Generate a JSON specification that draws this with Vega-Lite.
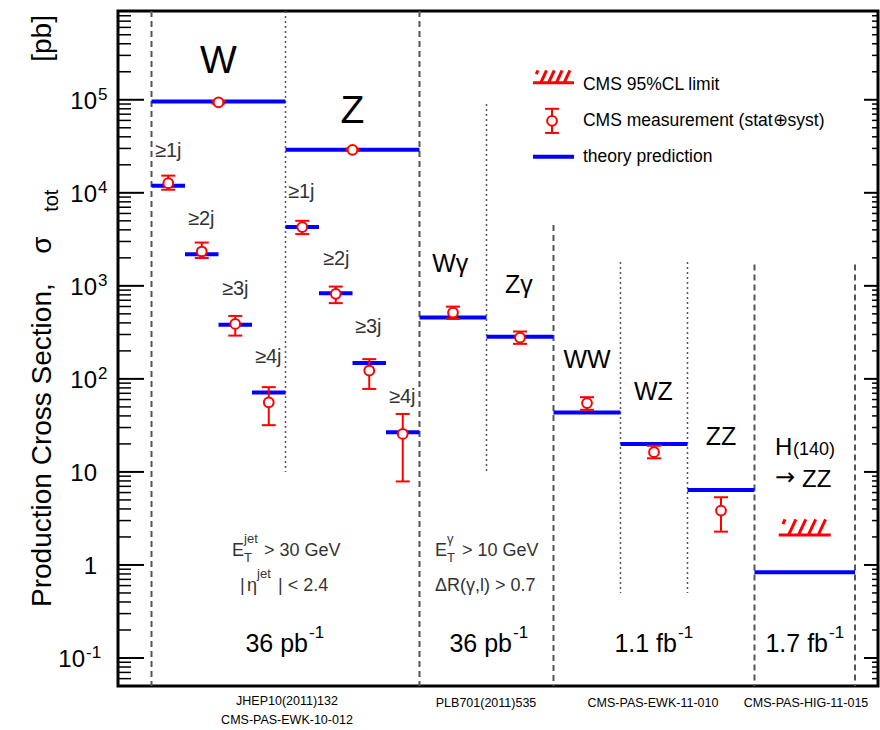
{
  "$schema": "https://vega.github.io/schema/vega-lite/v6.json",
  "autosize": {"type": "none"},
  "padding": {"left": 118, "top": 11, "right": 2, "bottom": 44},
  "width": 760,
  "height": 675,
  "background": "white",
  "config": {
    "view": {"stroke": "black", "strokeWidth": 3},
    "axis": {"disable": true},
    "text": {"font": "Liberation Sans", "color": "black"}
  },
  "datasets": {
    "xsec": [
      {"proc": "W", "x0": 0.5, "x1": 2.5, "xc": 1.5, "theory": 96000, "meas": 94000, "lo": 91000, "hi": 97000},
      {"proc": "Z", "x0": 2.5, "x1": 4.5, "xc": 3.5, "theory": 29000, "meas": 29000, "lo": 28200, "hi": 29800},
      {"proc": "W+>=1j", "x0": 0.5, "x1": 1.0, "xc": 0.75, "theory": 11900, "meas": 12700, "lo": 10800, "hi": 15300},
      {"proc": "W+>=2j", "x0": 1.0, "x1": 1.5, "xc": 1.25, "theory": 2190, "meas": 2340, "lo": 1990, "hi": 2920},
      {"proc": "W+>=3j", "x0": 1.5, "x1": 2.0, "xc": 1.75, "theory": 381, "meas": 390, "lo": 292, "hi": 475},
      {"proc": "W+>=4j", "x0": 2.0, "x1": 2.5, "xc": 2.25, "theory": 71.3, "meas": 56, "lo": 31.8, "hi": 81.5},
      {"proc": "Z+>=1j", "x0": 2.5, "x1": 3.0, "xc": 2.75, "theory": 4280, "meas": 4280, "lo": 3600, "hi": 5000},
      {"proc": "Z+>=2j", "x0": 3.0, "x1": 3.5, "xc": 3.25, "theory": 834, "meas": 820, "lo": 652, "hi": 982},
      {"proc": "Z+>=3j", "x0": 3.5, "x1": 4.0, "xc": 3.75, "theory": 148, "meas": 123, "lo": 78, "hi": 163},
      {"proc": "Z+>=4j", "x0": 4.0, "x1": 4.5, "xc": 4.25, "theory": 26.7, "meas": 25.6, "lo": 7.9, "hi": 42},
      {"proc": "Wgamma", "x0": 4.5, "x1": 5.5, "xc": 5.0, "theory": 456, "meas": 516, "lo": 441, "hi": 598},
      {"proc": "Zgamma", "x0": 5.5, "x1": 6.5, "xc": 6.0, "theory": 283, "meas": 278, "lo": 238, "hi": 323},
      {"proc": "WW", "x0": 6.5, "x1": 7.5, "xc": 7.0, "theory": 43.5, "meas": 54.9, "lo": 46.5, "hi": 63.6},
      {"proc": "WZ", "x0": 7.5, "x1": 8.5, "xc": 8.0, "theory": 19.9, "meas": 16.3, "lo": 14.0, "hi": 19.1},
      {"proc": "ZZ", "x0": 8.5, "x1": 9.5, "xc": 9.0, "theory": 6.41, "meas": 3.84, "lo": 2.28, "hi": 5.34},
      {"proc": "H(140)->ZZ", "x0": 9.5, "x1": 11.0, "xc": 10.25, "theory": 0.835, "meas": null, "lo": null, "hi": null}
    ],
    "limits": [
      {"proc": "H(140)->ZZ", "xc": 10.25, "limit": 2.1}
    ],
    "dividers": [
      {"x": 0.5, "ytop": 900000, "ybot": 0.05, "kind": "dashed"},
      {"x": 2.5, "ytop": 900000, "ybot": 10, "kind": "dotted"},
      {"x": 4.5, "ytop": 900000, "ybot": 0.05, "kind": "dashed"},
      {"x": 5.5, "ytop": 90000, "ybot": 10, "kind": "dotted"},
      {"x": 6.5, "ytop": 4500, "ybot": 0.05, "kind": "dashed"},
      {"x": 7.5, "ytop": 1800, "ybot": 0.5, "kind": "dotted"},
      {"x": 8.5, "ytop": 1800, "ybot": 0.5, "kind": "dotted"},
      {"x": 9.5, "ytop": 1700, "ybot": 0.05, "kind": "dashed"},
      {"x": 11.0, "ytop": 1700, "ybot": 0.05, "kind": "dashed"}
    ],
    "majorTicks": [
      {"v": 0.1}, {"v": 1}, {"v": 10}, {"v": 100}, {"v": 1000}, {"v": 10000}, {"v": 100000}
    ],
    "minorTicks": [
      {"v": 0.05}, {"v": 0.06}, {"v": 0.07}, {"v": 0.08}, {"v": 0.09},
      {"v": 0.2}, {"v": 0.3}, {"v": 0.4}, {"v": 0.5}, {"v": 0.6}, {"v": 0.7}, {"v": 0.8}, {"v": 0.9},
      {"v": 2}, {"v": 3}, {"v": 4}, {"v": 5}, {"v": 6}, {"v": 7}, {"v": 8}, {"v": 9},
      {"v": 20}, {"v": 30}, {"v": 40}, {"v": 50}, {"v": 60}, {"v": 70}, {"v": 80}, {"v": 90},
      {"v": 200}, {"v": 300}, {"v": 400}, {"v": 500}, {"v": 600}, {"v": 700}, {"v": 800}, {"v": 900},
      {"v": 2000}, {"v": 3000}, {"v": 4000}, {"v": 5000}, {"v": 6000}, {"v": 7000}, {"v": 8000}, {"v": 9000},
      {"v": 20000}, {"v": 30000}, {"v": 40000}, {"v": 50000}, {"v": 60000}, {"v": 70000}, {"v": 80000}, {"v": 90000},
      {"v": 200000}, {"v": 300000}, {"v": 400000}, {"v": 500000}, {"v": 600000}, {"v": 700000}, {"v": 800000}, {"v": 900000}
    ],
    "tickLabels": [
      {"v": 100000, "base": "10", "exp": "5"},
      {"v": 10000, "base": "10", "exp": "4"},
      {"v": 1000, "base": "10", "exp": "3"},
      {"v": 100, "base": "10", "exp": "2"},
      {"v": 10, "base": "10", "exp": ""},
      {"v": 1, "base": "1", "exp": ""},
      {"v": 0.1, "base": "10", "exp": "-1"}
    ],
    "notes": [
      {"t": "W", "x": 1.5, "y": 195000, "k": "big"},
      {"t": "Z", "x": 3.5, "y": 56600, "k": "big"},
      {"t": "≥1j", "x": 0.552, "y": 24400, "k": "jet"},
      {"t": "≥2j", "x": 1.045, "y": 4530, "k": "jet"},
      {"t": "≥3j", "x": 1.552, "y": 800, "k": "jet"},
      {"t": "≥4j", "x": 2.045, "y": 148.6, "k": "jet"},
      {"t": "≥1j", "x": 2.537, "y": 8840, "k": "jet"},
      {"t": "≥2j", "x": 3.06, "y": 1682, "k": "jet"},
      {"t": "≥3j", "x": 3.537, "y": 312, "k": "jet"},
      {"t": "≥4j", "x": 4.045, "y": 55.2, "k": "jet"},
      {"t": "Wγ", "x": 4.96, "y": 1415, "k": "proc"},
      {"t": "Zγ", "x": 5.985, "y": 841, "k": "proc"},
      {"t": "WW", "x": 7.0, "y": 131, "k": "proc"},
      {"t": "WZ", "x": 7.99, "y": 59.5, "k": "proc"},
      {"t": "ZZ", "x": 9.0, "y": 19.5, "k": "proc"},
      {"t": "H", "x": 9.806, "y": 15.2, "k": "higgs"},
      {"t": "(140)", "x": 10.075, "y": 15.2, "k": "higgsSmall"},
      {"t": "→", "x": 9.806, "y": 7.25, "k": "higgsArrow"},
      {"t": "ZZ", "x": 10.21, "y": 6.9, "k": "higgs"},
      {"t": "E", "x": 1.701, "y": 1.25, "k": "cut"},
      {"t": "T", "x": 1.881, "y": 1.077, "k": "cutSmall"},
      {"t": "jet", "x": 1.881, "y": 1.724, "k": "cutSmall"},
      {"t": "> 30 GeV", "x": 2.179, "y": 1.25, "k": "cut"},
      {"t": "|", "x": 1.821, "y": 0.5254, "k": "cut"},
      {"t": "η", "x": 1.925, "y": 0.5254, "k": "cut"},
      {"t": "jet", "x": 2.075, "y": 0.7247, "k": "cutSmall"},
      {"t": "| < 2.4", "x": 2.388, "y": 0.5254, "k": "cut"},
      {"t": "E", "x": 4.731, "y": 1.25, "k": "cut"},
      {"t": "T", "x": 4.91, "y": 1.077, "k": "cutSmall"},
      {"t": "γ", "x": 4.91, "y": 1.724, "k": "cutSmall"},
      {"t": "> 10 GeV", "x": 5.134, "y": 1.25, "k": "cut"},
      {"t": "ΔR(γ,l) > 0.7", "x": 4.731, "y": 0.5254, "k": "cut"},
      {"t": "36 pb", "x": 2.836, "y": 0.116, "k": "lumi"},
      {"t": "-1", "x": 2.851, "y": 0.164, "k": "lumiExp"},
      {"t": "36 pb", "x": 5.881, "y": 0.116, "k": "lumi"},
      {"t": "-1", "x": 5.896, "y": 0.164, "k": "lumiExp"},
      {"t": "1.1 fb", "x": 8.343, "y": 0.116, "k": "lumi"},
      {"t": "-1", "x": 8.358, "y": 0.164, "k": "lumiExp"},
      {"t": "1.7 fb", "x": 10.597, "y": 0.116, "k": "lumi"},
      {"t": "-1", "x": 10.612, "y": 0.164, "k": "lumiExp"},
      {"t": "JHEP10(2011)132", "x": 2.522, "y": 0.03125, "k": "ref"},
      {"t": "CMS-PAS-EWK-10-012", "x": 2.522, "y": 0.01952, "k": "ref"},
      {"t": "PLB701(2011)535", "x": 5.493, "y": 0.02973, "k": "ref"},
      {"t": "CMS-PAS-EWK-11-010", "x": 7.985, "y": 0.02973, "k": "ref"},
      {"t": "CMS-PAS-HIG-11-015", "x": 10.269, "y": 0.02973, "k": "ref"},
      {"t": "CMS 95%CL limit", "x": 6.94, "y": 145000, "k": "legend"},
      {"t": "CMS measurement (stat⊕syst)", "x": 6.94, "y": 59400, "k": "legend"},
      {"t": "theory prediction", "x": 6.94, "y": 24400, "k": "legend"},
      {"t": "Production Cross Section,", "x": -1.0, "y": 0.3535, "k": "title"},
      {"t": "σ", "x": -1.0, "y": 2208, "k": "title"},
      {"t": "tot", "x": -0.9, "y": 6250, "k": "titleSub"},
      {"t": "[pb]", "x": -1.0, "y": 256000, "k": "title"}
    ],
    "legendItems": [
      {"item": "limit", "x": 6.5, "x0": 6.194, "x1": 6.806, "y": 152400, "lo": null, "hi": null},
      {"item": "measurement", "x": 6.478, "x0": null, "x1": null, "y": 59400, "lo": 44000, "hi": 80000},
      {"item": "theory", "x": 6.5, "x0": 6.194, "x1": 6.806, "y": 24400, "lo": null, "hi": null}
    ]
  },
  "layer": [
    {
      "data": {"name": "minorTicks"},
      "mark": {"type": "rule", "stroke": "black", "strokeWidth": 1.5},
      "encoding": {
        "x": {"datum": 0, "type": "quantitative", "scale": {"domain": [0, 11.3433], "nice": false, "zero": false}},
        "x2": {"datum": 0.194},
        "y": {"field": "v", "type": "quantitative", "scale": {"type": "log", "domain": [0.05, 900000], "nice": false}}
      }
    },
    {
      "data": {"name": "majorTicks"},
      "mark": {"type": "rule", "stroke": "black", "strokeWidth": 2},
      "encoding": {
        "x": {"datum": 0, "type": "quantitative"},
        "x2": {"datum": 0.388},
        "y": {"field": "v", "type": "quantitative"}
      }
    },
    {
      "data": {"name": "minorTicks"},
      "mark": {"type": "rule", "stroke": "black", "strokeWidth": 1.5},
      "encoding": {
        "x": {"datum": 11.3433, "type": "quantitative"},
        "x2": {"datum": 11.254},
        "y": {"field": "v", "type": "quantitative"}
      }
    },
    {
      "data": {"name": "majorTicks"},
      "mark": {"type": "rule", "stroke": "black", "strokeWidth": 2},
      "encoding": {
        "x": {"datum": 11.3433, "type": "quantitative"},
        "x2": {"datum": 11.134},
        "y": {"field": "v", "type": "quantitative"}
      }
    },
    {
      "data": {"name": "dividers"},
      "transform": [{"filter": "datum.kind === 'dashed'"}],
      "mark": {"type": "rule", "stroke": "#555555", "strokeWidth": 2, "strokeDash": [6, 4]},
      "encoding": {
        "x": {"field": "x", "type": "quantitative"},
        "y": {"field": "ytop", "type": "quantitative"},
        "y2": {"field": "ybot"}
      }
    },
    {
      "data": {"name": "dividers"},
      "transform": [{"filter": "datum.kind === 'dotted'"}],
      "mark": {"type": "rule", "stroke": "#555555", "strokeWidth": 1.5, "strokeDash": [2, 3]},
      "encoding": {
        "x": {"field": "x", "type": "quantitative"},
        "y": {"field": "ytop", "type": "quantitative"},
        "y2": {"field": "ybot"}
      }
    },
    {
      "data": {"name": "xsec"},
      "mark": {"type": "rule", "stroke": "#0000ff", "strokeWidth": 4},
      "encoding": {
        "x": {"field": "x0", "type": "quantitative"},
        "x2": {"field": "x1"},
        "y": {"field": "theory", "type": "quantitative"}
      }
    },
    {
      "data": {"name": "xsec"},
      "transform": [{"filter": "isValid(datum.meas)"}],
      "layer": [
        {
          "mark": {"type": "rule", "stroke": "#ff0000", "strokeWidth": 2},
          "encoding": {
            "x": {"field": "xc", "type": "quantitative"},
            "y": {"field": "lo", "type": "quantitative"},
            "y2": {"field": "hi"}
          }
        },
        {
          "mark": {"type": "tick", "orient": "horizontal", "color": "#ff0000", "size": 14, "thickness": 2, "opacity": 1},
          "encoding": {
            "x": {"field": "xc", "type": "quantitative"},
            "y": {"field": "lo", "type": "quantitative"}
          }
        },
        {
          "mark": {"type": "tick", "orient": "horizontal", "color": "#ff0000", "size": 14, "thickness": 2, "opacity": 1},
          "encoding": {
            "x": {"field": "xc", "type": "quantitative"},
            "y": {"field": "hi", "type": "quantitative"}
          }
        },
        {
          "mark": {"type": "point", "shape": "circle", "filled": true, "fill": "white", "stroke": "#ff0000", "strokeWidth": 2, "size": 95, "opacity": 1},
          "encoding": {
            "x": {"field": "xc", "type": "quantitative"},
            "y": {"field": "meas", "type": "quantitative"}
          }
        }
      ]
    },
    {
      "data": {"name": "limits"},
      "mark": {"type": "point", "shape": "M-1,0L1,0M-0.84,-0.42L-0.76,-0.6M-0.62,0L-0.34,-0.6M-0.24,0L0.04,-0.6M0.14,0L0.42,-0.6M0.52,0L0.8,-0.6", "filled": false, "stroke": "#ff0000", "strokeWidth": 3, "size": 2704, "opacity": 1},
      "encoding": {
        "x": {"field": "xc", "type": "quantitative"},
        "y": {"field": "limit", "type": "quantitative"}
      }
    },
    {
      "data": {"name": "legendItems"},
      "transform": [{"filter": "datum.item === 'limit'"}],
      "mark": {"type": "point", "shape": "M-1,0L1,0M-0.84,-0.42L-0.76,-0.6M-0.62,0L-0.34,-0.6M-0.24,0L0.04,-0.6M0.14,0L0.42,-0.6M0.52,0L0.8,-0.6", "filled": false, "stroke": "#ff0000", "strokeWidth": 3, "size": 1681, "opacity": 1},
      "encoding": {
        "x": {"field": "x", "type": "quantitative"},
        "y": {"field": "y", "type": "quantitative"}
      }
    },
    {
      "data": {"name": "legendItems"},
      "transform": [{"filter": "datum.item === 'theory'"}],
      "mark": {"type": "rule", "stroke": "#0000ff", "strokeWidth": 4},
      "encoding": {
        "x": {"field": "x0", "type": "quantitative"},
        "x2": {"field": "x1"},
        "y": {"field": "y", "type": "quantitative"}
      }
    },
    {
      "data": {"name": "legendItems"},
      "transform": [{"filter": "datum.item === 'measurement'"}],
      "layer": [
        {
          "mark": {"type": "rule", "stroke": "#ff0000", "strokeWidth": 2},
          "encoding": {
            "x": {"field": "x", "type": "quantitative"},
            "y": {"field": "lo", "type": "quantitative"},
            "y2": {"field": "hi"}
          }
        },
        {
          "mark": {"type": "tick", "orient": "horizontal", "color": "#ff0000", "size": 14, "thickness": 2, "opacity": 1},
          "encoding": {
            "x": {"field": "x", "type": "quantitative"},
            "y": {"field": "lo", "type": "quantitative"}
          }
        },
        {
          "mark": {"type": "tick", "orient": "horizontal", "color": "#ff0000", "size": 14, "thickness": 2, "opacity": 1},
          "encoding": {
            "x": {"field": "x", "type": "quantitative"},
            "y": {"field": "hi", "type": "quantitative"}
          }
        },
        {
          "mark": {"type": "point", "shape": "circle", "filled": true, "fill": "white", "stroke": "#ff0000", "strokeWidth": 2, "size": 95, "opacity": 1},
          "encoding": {
            "x": {"field": "x", "type": "quantitative"},
            "y": {"field": "y", "type": "quantitative"}
          }
        }
      ]
    },
    {
      "data": {"name": "tickLabels"},
      "transform": [{"filter": "datum.exp !== '-1'"}],
      "mark": {"type": "text", "align": "right", "baseline": "alphabetic", "fontSize": 24, "dx": -21, "dy": 9},
      "encoding": {
        "x": {"datum": 0, "type": "quantitative"},
        "y": {"field": "v", "type": "quantitative"},
        "text": {"field": "base"}
      }
    },
    {
      "data": {"name": "tickLabels"},
      "transform": [{"filter": "datum.exp !== '-1' && datum.exp !== ''"}],
      "mark": {"type": "text", "align": "left", "baseline": "alphabetic", "fontSize": 17, "dx": -20, "dy": 0},
      "encoding": {
        "x": {"datum": 0, "type": "quantitative"},
        "y": {"field": "v", "type": "quantitative"},
        "text": {"field": "exp"}
      }
    },
    {
      "data": {"name": "tickLabels"},
      "transform": [{"filter": "datum.exp === '-1'"}],
      "layer": [
        {
          "mark": {"type": "text", "align": "right", "baseline": "alphabetic", "fontSize": 24, "dx": -33, "dy": 9},
          "encoding": {
            "x": {"datum": 0, "type": "quantitative"},
            "y": {"field": "v", "type": "quantitative"},
            "text": {"field": "base"}
          }
        },
        {
          "mark": {"type": "text", "align": "left", "baseline": "alphabetic", "fontSize": 17, "dx": -32, "dy": 0},
          "encoding": {
            "x": {"datum": 0, "type": "quantitative"},
            "y": {"field": "v", "type": "quantitative"},
            "text": {"field": "exp"}
          }
        }
      ]
    },
    {
      "data": {"name": "notes"},
      "transform": [{"filter": "datum.k === 'big'"}],
      "mark": {"type": "text", "align": "center", "baseline": "alphabetic", "fontSize": 39},
      "encoding": {"x": {"field": "x", "type": "quantitative"}, "y": {"field": "y", "type": "quantitative"}, "text": {"field": "t"}}
    },
    {
      "data": {"name": "notes"},
      "transform": [{"filter": "datum.k === 'jet'"}],
      "mark": {"type": "text", "align": "left", "baseline": "alphabetic", "fontSize": 20, "color": "#333333"},
      "encoding": {"x": {"field": "x", "type": "quantitative"}, "y": {"field": "y", "type": "quantitative"}, "text": {"field": "t"}}
    },
    {
      "data": {"name": "notes"},
      "transform": [{"filter": "datum.k === 'proc'"}],
      "mark": {"type": "text", "align": "center", "baseline": "alphabetic", "fontSize": 25},
      "encoding": {"x": {"field": "x", "type": "quantitative"}, "y": {"field": "y", "type": "quantitative"}, "text": {"field": "t"}}
    },
    {
      "data": {"name": "notes"},
      "transform": [{"filter": "datum.k === 'higgs'"}],
      "mark": {"type": "text", "align": "left", "baseline": "alphabetic", "fontSize": 24},
      "encoding": {"x": {"field": "x", "type": "quantitative"}, "y": {"field": "y", "type": "quantitative"}, "text": {"field": "t"}}
    },
    {
      "data": {"name": "notes"},
      "transform": [{"filter": "datum.k === 'higgsSmall'"}],
      "mark": {"type": "text", "align": "left", "baseline": "alphabetic", "fontSize": 18},
      "encoding": {"x": {"field": "x", "type": "quantitative"}, "y": {"field": "y", "type": "quantitative"}, "text": {"field": "t"}}
    },
    {
      "data": {"name": "notes"},
      "transform": [{"filter": "datum.k === 'higgsArrow'"}],
      "mark": {"type": "text", "align": "left", "baseline": "alphabetic", "fontSize": 24, "font": "DejaVu Sans"},
      "encoding": {"x": {"field": "x", "type": "quantitative"}, "y": {"field": "y", "type": "quantitative"}, "text": {"field": "t"}}
    },
    {
      "data": {"name": "notes"},
      "transform": [{"filter": "datum.k === 'cut'"}],
      "mark": {"type": "text", "align": "left", "baseline": "alphabetic", "fontSize": 18, "color": "#333333"},
      "encoding": {"x": {"field": "x", "type": "quantitative"}, "y": {"field": "y", "type": "quantitative"}, "text": {"field": "t"}}
    },
    {
      "data": {"name": "notes"},
      "transform": [{"filter": "datum.k === 'cutSmall'"}],
      "mark": {"type": "text", "align": "left", "baseline": "alphabetic", "fontSize": 13, "color": "#333333"},
      "encoding": {"x": {"field": "x", "type": "quantitative"}, "y": {"field": "y", "type": "quantitative"}, "text": {"field": "t"}}
    },
    {
      "data": {"name": "notes"},
      "transform": [{"filter": "datum.k === 'lumi'"}],
      "mark": {"type": "text", "align": "right", "baseline": "alphabetic", "fontSize": 25},
      "encoding": {"x": {"field": "x", "type": "quantitative"}, "y": {"field": "y", "type": "quantitative"}, "text": {"field": "t"}}
    },
    {
      "data": {"name": "notes"},
      "transform": [{"filter": "datum.k === 'lumiExp'"}],
      "mark": {"type": "text", "align": "left", "baseline": "alphabetic", "fontSize": 17},
      "encoding": {"x": {"field": "x", "type": "quantitative"}, "y": {"field": "y", "type": "quantitative"}, "text": {"field": "t"}}
    },
    {
      "data": {"name": "notes"},
      "transform": [{"filter": "datum.k === 'ref'"}],
      "mark": {"type": "text", "align": "center", "baseline": "alphabetic", "fontSize": 12.5},
      "encoding": {"x": {"field": "x", "type": "quantitative"}, "y": {"field": "y", "type": "quantitative"}, "text": {"field": "t"}}
    },
    {
      "data": {"name": "notes"},
      "transform": [{"filter": "datum.k === 'legend'"}],
      "mark": {"type": "text", "align": "left", "baseline": "middle", "fontSize": 17.5},
      "encoding": {"x": {"field": "x", "type": "quantitative"}, "y": {"field": "y", "type": "quantitative"}, "text": {"field": "t"}}
    },
    {
      "data": {"name": "notes"},
      "transform": [{"filter": "datum.k === 'title'"}],
      "mark": {"type": "text", "align": "left", "baseline": "alphabetic", "fontSize": 28, "angle": 270},
      "encoding": {"x": {"field": "x", "type": "quantitative"}, "y": {"field": "y", "type": "quantitative"}, "text": {"field": "t"}}
    },
    {
      "data": {"name": "notes"},
      "transform": [{"filter": "datum.k === 'titleSub'"}],
      "mark": {"type": "text", "align": "left", "baseline": "alphabetic", "fontSize": 20, "angle": 270},
      "encoding": {"x": {"field": "x", "type": "quantitative"}, "y": {"field": "y", "type": "quantitative"}, "text": {"field": "t"}}
    }
  ]
}
